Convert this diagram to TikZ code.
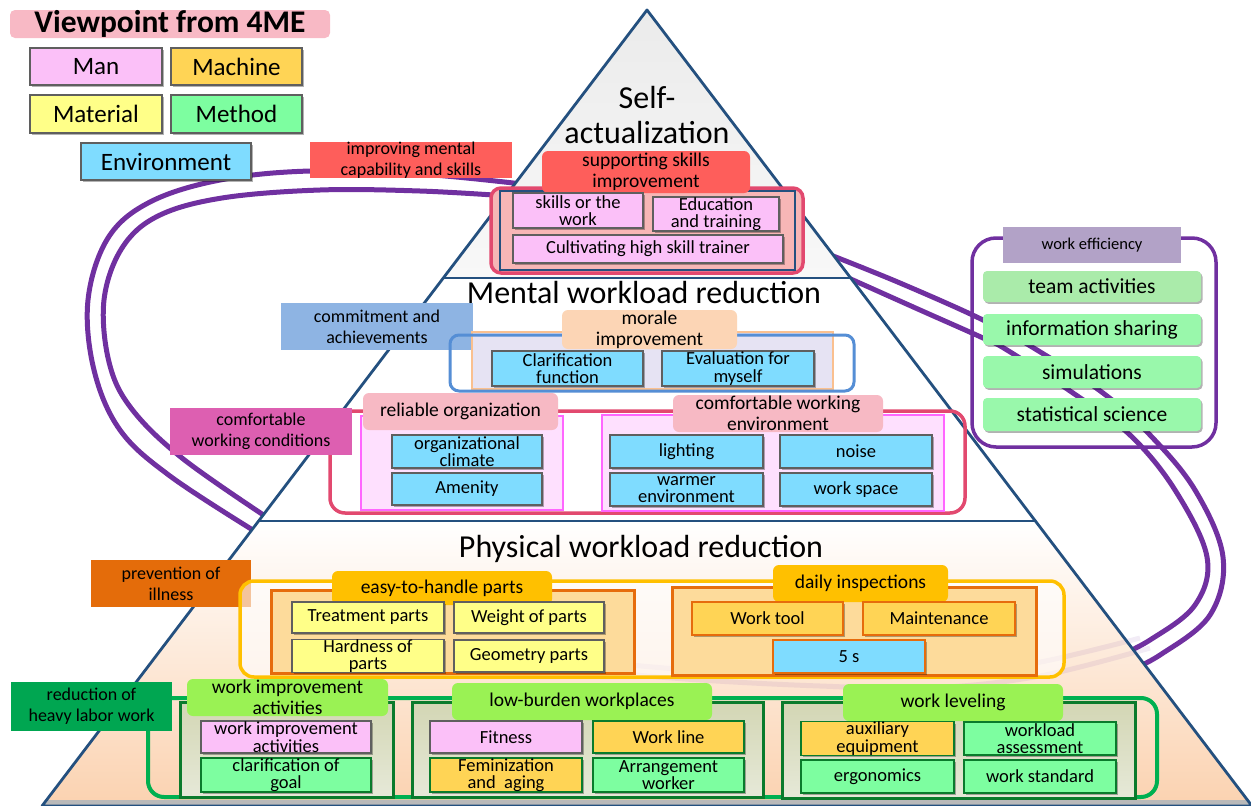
\documentclass[tikz,border=0pt]{standalone}
\usepackage{fontspec}
\setmainfont{Carlito}
\usetikzlibrary{shadows}
\definecolor{cPink}{HTML}{FBC0F8}
\definecolor{cMach}{HTML}{FFD455}
\definecolor{cMat}{HTML}{FFFF88}
\definecolor{cMeth}{HTML}{7DFEA0}
\definecolor{cEnv}{HTML}{7FDCFF}
\definecolor{titlePink}{HTML}{F8B9C5}
\definecolor{cRed}{HTML}{FE5E5B}
\definecolor{cCrim}{HTML}{E2496F}
\definecolor{cSalmon}{HTML}{F7B6B6}
\definecolor{navy}{HTML}{24507F}
\definecolor{itemGray}{HTML}{5F5F5F}
\definecolor{cSteel}{HTML}{8EB4E3}
\definecolor{cBlueB}{HTML}{558ED5}
\definecolor{cPeachB}{HTML}{FAC08F}
\definecolor{cLav}{HTML}{E6E3F3}
\definecolor{cPeachH}{HTML}{FCD5B5}
\definecolor{cMagD}{HTML}{DD5FB1}
\definecolor{cMag}{HTML}{FF66FF}
\definecolor{cMagL}{HTML}{FEE0FE}
\definecolor{cPinkH}{HTML}{F7B9C4}
\definecolor{cOrange}{HTML}{E46C0A}
\definecolor{cGold}{HTML}{FFC000}
\definecolor{cOrB}{HTML}{E66C0C}
\definecolor{cOrL}{HTML}{FDDB9B}
\definecolor{cGreenD}{HTML}{00A651}
\definecolor{cGreenB}{HTML}{00B050}
\definecolor{cGreenK}{HTML}{0A7B2C}
\definecolor{cGreenH}{HTML}{9AF254}
\definecolor{cPurple}{HTML}{7030A0}
\definecolor{cLavH}{HTML}{B2A2C7}
\definecolor{cGreenT}{HTML}{AAEBAA}
\definecolor{cGreenI}{HTML}{99F8AB}
\definecolor{triTop}{HTML}{EBEBEB}
\definecolor{triBot}{HTML}{F8F8F8}
\definecolor{cPeachBg}{HTML}{FBD2B0}
\definecolor{subTop}{HTML}{D3D6B4}
\definecolor{subBot}{HTML}{E6E9D8}
\newcommand\bxx[7]{\node[#6, minimum width={#4-#2}, minimum height={#5-#3}] (#1) at ({(#2+#4)/2},{(#3+#5)/2}) {#7};}
\tikzset{
  shad/.style={drop shadow={shadow xshift=1.5pt,shadow yshift=-1.8pt,opacity=0.3,fill=black}},
  item/.style={draw=itemGray, line width=1.3pt, inner sep=0pt, align=center, font=\fontsize{18.5}{17.5}\selectfont, shad},
  itemO/.style={item, draw=cOrB},
  itemG/.style={item, draw=cGreenK},
  leg/.style={item, line width=1.5pt, font=\fontsize{25}{25}\selectfont},
  hdr/.style={rounded corners=6pt, inner sep=0pt, align=center, font=\fontsize{19.5}{21}\selectfont},
  lbl/.style={inner sep=0pt, align=center, font=\fontsize{18}{21}\selectfont},
  grp/.style={inner sep=0pt},
  gitem/.style={rounded corners=4pt, inner sep=0pt, font=\fontsize{21.5}{21.5}\selectfont, shad},
  sub/.style={draw=cGreenK, line width=3pt, top color=subTop, bottom color=subBot, inner sep=0pt},
  purp/.style={draw=cPurple, line width=5pt},
  faint/.style={draw=cPurple, line width=5pt, opacity=0.09},
  bigt/.style={align=center, inner sep=0pt},
}
\begin{document}
\begin{tikzpicture}[x=1pt,y=-1pt]
\useasboundingbox (0,0) rectangle (1251,806);
\clip (0,0) rectangle (1251,806);
% ---------- purple loop ----------
\draw[purp] plot[smooth, tension=0.6] coordinates {(522,184) (420,174) (310,171) (220,180) (150,202) (108,238) (88,300) (94,370) (120,430) (170,476) (256,532)};
\draw[purp] plot[smooth, tension=0.6] coordinates {(508,196) (420,191) (320,190) (222,198) (158,216) (122,248) (104,300) (109,362) (131,408) (182,458) (268,518)};
\draw[purp] plot[smooth, tension=0.6] coordinates {(828,254) (900,283) (983,320) (1037,350) (1103,393) (1150,435) (1195,490) (1223,557) (1210,615) (1160,655) (1120,675)};
\draw[purp] plot[smooth, tension=0.6] coordinates {(844,276) (920,310) (983,338) (1007,350) (1073,393) (1130,435) (1175,490) (1207,557) (1195,605) (1150,640) (1110,660)};
% ---------- pyramid ----------
\coordinate (apex) at (647,10);
\coordinate (l1) at (443.3,278); \coordinate (r1) at (850.7,278);
\coordinate (l2) at (258.6,521); \coordinate (r2) at (1035.4,521);
\coordinate (l3) at (42,806);   \coordinate (r3) at (1252,806);
\shade[top color=triTop, bottom color=triBot] (apex) -- (l1) -- (r1) -- cycle;
\fill[white] (l1) -- (l2) -- (r2) -- (r1) -- cycle;
\shade[top color=white, bottom color=cPeachBg] (l2) -- (l3) -- (r3) -- (r2) -- cycle;
\draw[faint] plot[smooth, tension=0.6] coordinates {(1150,648) (1040,676) (930,688) (820,686) (700,680) (600,672)};
\draw[faint] plot[smooth, tension=0.6] coordinates {(1140,638) (1030,664) (920,676) (810,676) (690,670) (600,662)};
\fill[gray!55] (46.6,800) -- (1248,800) -- (r3) -- (l3) -- cycle;
\draw[navy, line width=2.8pt, line join=round] (apex) -- (l3) -- (r3) -- cycle;
\draw[navy, line width=2.8pt] (l1) -- (r1);
\draw[navy, line width=2.8pt] (l2) -- (r2);
% ---------- legend ----------
\node[fill=titlePink, rounded corners=5pt, minimum width=320, minimum height=28, inner sep=0pt, font=\bfseries\fontsize{31.5}{31.5}\selectfont] (title) at (170,24) {Viewpoint from 4ME};
\bxx{man}{30}{48}{162}{85}{leg,fill=cPink}{Man}
\bxx{machine}{171}{48}{302}{85}{leg,fill=cMach}{Machine}
\bxx{material}{30}{95}{162}{133}{leg,fill=cMat}{Material}
\bxx{method}{171}{95}{302}{133}{leg,fill=cMeth}{Method}
\bxx{environment}{81}{143}{251}{180}{leg,fill=cEnv}{Environment}
% ---------- self-actualization ----------
\node[bigt, font=\fontsize{32}{35}\selectfont] (selfact) at (647,115) {Self-\\actualization};
\bxx{skillgrp}{491}{188}{803}{273}{grp,draw=cCrim,fill=cSalmon,rounded corners=10pt,line width=3.5pt}{}
\draw[navy, line width=2pt] (500,191) rectangle (795,270);
\bxx{support}{542}{151}{750}{193}{hdr,fill=cRed}{supporting skills\\improvement}
\bxx{skills}{513}{193}{643}{228}{item,fill=cPink}{skills or the\\work}
\bxx{edu}{653}{197}{779}{231}{item,fill=cPink}{Education\\and training}
\bxx{cultivate}{513}{235}{783}{263}{item,fill=cPink}{Cultivating high skill trainer}
\bxx{improving}{310}{142}{512}{178}{lbl,fill=cRed}{improving mental\\capability and skills}
% ---------- mental ----------
\node[bigt, font=\fontsize{32}{32}\selectfont] (mental) at (644,293) {Mental workload reduction};
\bxx{commit}{281}{303}{473}{350}{lbl,fill=cSteel}{commitment and\\achievements}
\bxx{moralebox}{472}{332}{833}{389}{grp,draw=cPeachB,fill=cLav,line width=2.5pt}{}
\bxx{moralegrp}{450}{335}{854}{391}{grp,draw=cBlueB,rounded corners=9pt,line width=3pt}{}
\bxx{morale}{562}{310}{737}{349}{hdr,fill=cPeachH}{morale\\improvement}
\bxx{clar}{492}{351}{643}{386}{item,fill=cEnv}{Clarification\\function}
\bxx{evalm}{662}{351}{814}{386}{item,fill=cEnv}{Evaluation for\\myself}
\bxx{comfgrp}{330}{411}{965}{513}{grp,draw=cCrim,rounded corners=15pt,line width=3.5pt}{}
\bxx{relbox}{361}{416}{563}{510}{grp,draw=cMag,fill=cMagL,line width=2.5pt}{}
\bxx{envbox}{602}{415}{944}{511}{grp,draw=cMag,fill=cMagL,line width=2.5pt}{}
\bxx{reliable}{363}{393}{558}{430}{hdr,fill=cPinkH}{reliable organization}
\bxx{comfenv}{673}{395}{883}{432}{hdr,fill=cPinkH}{comfortable working\\environment}
\bxx{orgclim}{392}{435}{542}{468}{item,fill=cEnv}{organizational\\climate}
\bxx{amenity}{392}{473}{542}{505}{item,fill=cEnv}{Amenity}
\bxx{lighting}{610}{435}{763}{468}{item,fill=cEnv}{lighting}
\bxx{noise}{780}{435}{932}{468}{item,fill=cEnv}{noise}
\bxx{warmer}{610}{473}{763}{506}{item,fill=cEnv}{warmer\\environment}
\bxx{workspace}{780}{473}{932}{506}{item,fill=cEnv}{work space}
\bxx{comflbl}{170}{408}{352}{455}{lbl,fill=cMagD}{comfortable\\working conditions}
% ---------- physical ----------
\node[bigt, font=\fontsize{32}{32}\selectfont] (physical) at (641,549) {Physical workload reduction};
\bxx{prevlbl}{91}{560}{251}{607}{lbl,fill=cOrange}{prevention of\\illness}
\bxx{goldgrp}{240}{581}{1064}{677}{grp,draw=cGold,rounded corners=14pt,line width=3.5pt,fill=white,fill opacity=0.6,draw opacity=1}{}
\bxx{easybox}{271}{590}{634}{673}{grp,draw=cOrB,fill=cOrL,line width=3pt}{}
\bxx{dailybox}{672}{587}{1036}{675}{grp,draw=cOrB,fill=cOrL,line width=3pt}{}
\bxx{easy}{332}{571}{552}{605}{hdr,fill=cGold}{easy-to-handle parts}
\bxx{daily}{773}{565}{948}{602}{hdr,fill=cGold}{daily inspections}
\bxx{treat}{292}{602}{444}{633}{item,fill=cMat}{Treatment parts}
\bxx{weight}{454}{602}{604}{633}{item,fill=cMat}{Weight of parts}
\bxx{hard}{292}{640}{444}{672}{item,fill=cMat}{Hardness of\\parts}
\bxx{geom}{454}{640}{604}{672}{item,fill=cMat}{Geometry parts}
\bxx{worktool}{692}{602}{843}{635}{itemO,fill=cMach}{Work tool}
\bxx{maint}{863}{602}{1015}{635}{itemO,fill=cMach}{Maintenance}
\bxx{fives}{773}{640}{925}{673}{itemO,fill=cEnv}{5 s}
% ---------- bottom ----------
\bxx{greengrp}{148}{698}{1157}{797}{grp,draw=cGreenB,rounded corners=16pt,line width=4pt}{}
\bxx{heavylbl}{11}{682}{172}{731}{lbl,fill=cGreenD}{reduction of\\heavy labor work}
\bxx{wibox}{180}{702}{393}{797}{sub}{}
\bxx{lbbox}{412}{702}{763}{797}{sub}{}
\bxx{wlbox}{782}{702}{1135}{798}{sub}{}
\bxx{wihdr}{187}{679}{388}{716}{hdr,fill=cGreenH}{work improvement\\activities}
\bxx{lbhdr}{452}{683}{712}{720}{hdr,fill=cGreenH}{low-burden workplaces}
\bxx{wlhdr}{843}{684}{1063}{721}{hdr,fill=cGreenH}{work leveling}
\bxx{wiitem}{201}{721}{371}{753}{item,fill=cPink}{work improvement\\activities}
\bxx{goal}{201}{758}{371}{792}{itemG,fill=cMeth}{clarification of\\goal}
\bxx{fitness}{430}{721}{582}{753}{item,fill=cPink}{Fitness}
\bxx{workline}{593}{721}{744}{753}{itemG,fill=cMach}{Work line}
\bxx{femin}{430}{758}{582}{792}{itemG,fill=cMach}{Feminization\\and\ \ aging}
\bxx{arrange}{593}{758}{744}{792}{itemG,fill=cMeth}{Arrangement\\worker}
\bxx{aux}{801}{722}{954}{755}{itemG,fill=cMach}{auxiliary\\equipment}
\bxx{wload}{964}{722}{1116}{755}{itemG,fill=cMeth}{workload\\assessment}
\bxx{ergo}{801}{760}{954}{793}{itemG,fill=cMeth}{ergonomics}
\bxx{wstd}{964}{760}{1116}{793}{itemG,fill=cMeth}{work standard}
% ---------- right panel ----------
\bxx{effbox}{972}{238}{1216}{447}{grp,draw=cPurple,rounded corners=24pt,line width=3.5pt}{}
\bxx{effhdr}{1003}{227}{1181}{263}{lbl,fill=cLavH,font=\fontsize{16.5}{16.5}\selectfont}{work efficiency}
\bxx{team}{983}{271}{1201}{302}{gitem,fill=cGreenT}{team activities}
\bxx{info}{983}{314}{1201}{345}{gitem,fill=cGreenI}{information sharing}
\bxx{sim}{983}{356}{1201}{388}{gitem,fill=cGreenI}{simulations}
\bxx{stat}{983}{398}{1201}{431}{gitem,fill=cGreenI}{statistical science}
\end{tikzpicture}
\end{document}
